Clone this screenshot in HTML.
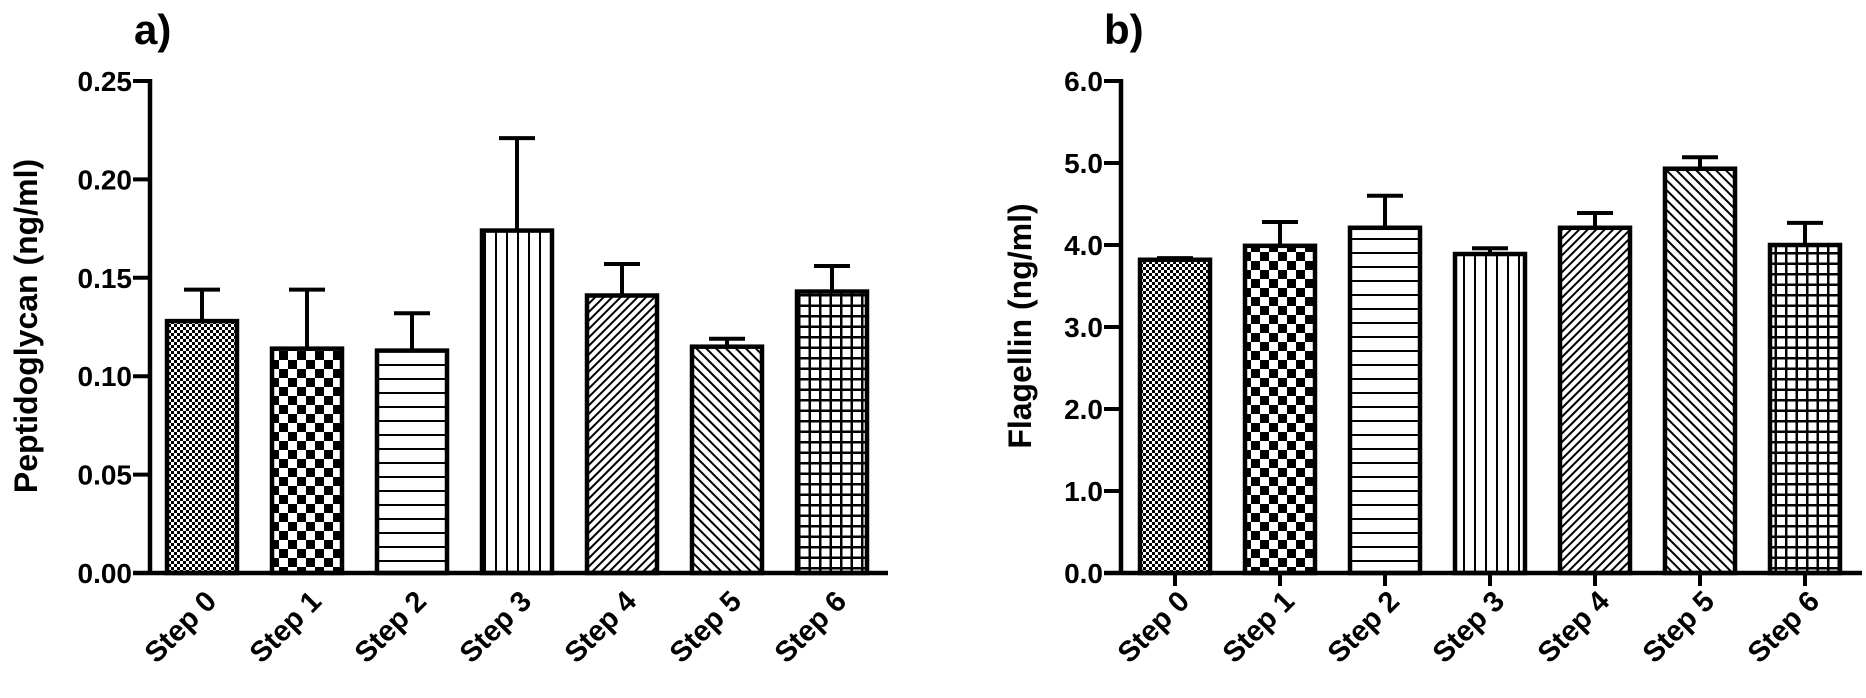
<!DOCTYPE html>
<html><head><meta charset="utf-8">
<style>
html,body{margin:0;padding:0;background:#fff;}
svg{display:block;font-family:"Liberation Sans",Arial,sans-serif;font-weight:bold;}
</style></head>
<body>
<svg id="chart" width="1866" height="698" viewBox="0 0 1866 698" xmlns="http://www.w3.org/2000/svg">
<defs>
<pattern id="p0" width="6" height="6" patternUnits="userSpaceOnUse"><rect width="6" height="6" fill="#fff"/><rect width="3" height="3" fill="#000"/><rect x="3" y="3" width="3" height="3" fill="#000"/></pattern>
<pattern id="p1" width="18" height="18" patternUnits="userSpaceOnUse"><rect width="18" height="18" fill="#fff"/><rect width="9" height="9" fill="#000"/><rect x="9" y="9" width="9" height="9" fill="#000"/></pattern>
<pattern id="p2" width="10" height="14" patternUnits="userSpaceOnUse"><rect width="10" height="14" fill="#fff"/><rect y="0" width="10" height="2" fill="#000"/></pattern>
<pattern id="p3" width="11" height="10" patternUnits="userSpaceOnUse"><rect width="11" height="10" fill="#fff"/><rect x="0" width="2" height="10" fill="#000"/></pattern>
<pattern id="p4" width="6" height="6" patternUnits="userSpaceOnUse" patternTransform="rotate(45)"><rect width="6" height="6" fill="#fff"/><rect width="2" height="6" fill="#000"/></pattern>
<pattern id="p5" width="7" height="7" patternUnits="userSpaceOnUse" patternTransform="rotate(-45)"><rect width="7" height="7" fill="#fff"/><rect width="2" height="7" fill="#000"/></pattern>
<pattern id="p6" width="10.5" height="10.5" patternUnits="userSpaceOnUse"><rect width="10.5" height="10.5" fill="#fff"/><rect width="2.5" height="10.5" fill="#000"/><rect width="10.5" height="2.5" fill="#000"/></pattern>
</defs>
<g id="panelA"></g>
<g id="panelB"></g>
</svg>
<script>
const categories = ["Step 0","Step 1","Step 2","Step 3","Step 4","Step 5","Step 6"];
const peptidoglycanMeans = [0.128, 0.114, 0.113, 0.174, 0.141, 0.115, 0.143];
const peptidoglycanErrors = [0.016, 0.030, 0.019, 0.047, 0.016, 0.004, 0.013];
const peptidoglycanTicks = ["0.00","0.05","0.10","0.15","0.20","0.25"];
const flagellinMeans = [3.82, 3.99, 4.21, 3.89, 4.21, 4.93, 4.00];
const flagellinErrors = [0.02, 0.29, 0.39, 0.07, 0.18, 0.14, 0.27];
const flagellinTicks = ["0.0","1.0","2.0","3.0","4.0","5.0","6.0"];

const NS = "http://www.w3.org/2000/svg";
function mk(parent, tag, attrs){
  const e = document.createElementNS(NS, tag);
  for (const k in attrs) e.setAttribute(k, attrs[k]);
  parent.appendChild(e);
  return e;
}
function drawPanel(g, cfg){
  const y0 = 573, yTop = 81;
  const yMax = parseFloat(cfg.ticks[cfg.ticks.length-1]);
  const yScale = v => y0 - (v / yMax) * (y0 - yTop);
  const xScale = i => cfg.firstCenter + i * 105;
  const bw = 70;
  cfg.means.forEach((m, i) => {
    const cx = xScale(i), top = yScale(m), et = yScale(m + cfg.errs[i]);
    const eb = mk(g, "line", {x1:cx, x2:cx, y1:top, y2:et, stroke:"#000", "stroke-width":4});
    
    
    const cap = mk(g, "line", {x1:cx-18, x2:cx+18, y1:et, y2:et, stroke:"#000", "stroke-width":4});
    
    
    const r = mk(g, "rect", {x:cx-bw/2, y:top, width:bw, height:y0-top, fill:"url(#p"+i+")", stroke:"#000", "stroke-width":4.5});
    
    
    if (cfg.downTicks) {
      const t = mk(g, "line", {x1:cx, x2:cx, y1:y0, y2:y0+13, stroke:"#000", "stroke-width":4});
      
      
    }
    const ax = cx + 16, ay = y0 + 30;
    const lbl = mk(g, "text", {x:ax, y:ay, "text-anchor":"end", "font-size":29, transform:"rotate(-45 "+ax+" "+ay+")", fill:"#000"});
    lbl.textContent = categories[i];
    
    
  });
  const ya = mk(g, "line", {x1:cfg.axisX, x2:cfg.axisX, y1:yTop-2, y2:y0+2, stroke:"#000", "stroke-width":4.5});
  
  
  const xa = mk(g, "line", {x1:cfg.axisX-17, x2:cfg.axisEnd, y1:y0, y2:y0, stroke:"#000", "stroke-width":4.5});
  
  
  cfg.ticks.forEach(t => {
    const y = yScale(parseFloat(t));
    const tk = mk(g, "line", {x1:cfg.axisX-17, x2:cfg.axisX, y1:y, y2:y, stroke:"#000", "stroke-width":4});
    
    
    const tl = mk(g, "text", {x:cfg.axisX-18, y:y+10, "text-anchor":"end", "font-size":28, fill:"#000"});
    tl.textContent = t;
    
    
  });
  const title = mk(g, "text", {x:cfg.titleX, y:326, "text-anchor":"middle", "font-size":32, transform:"rotate(-90 "+cfg.titleX+" 326)", fill:"#000"});
  title.textContent = cfg.title;
  
  
  const pl = mk(g, "text", {x:cfg.labelX, y:44, "font-size":42, fill:"#000"});
  pl.textContent = cfg.label;
  
  
}
drawPanel(document.getElementById("panelA"), {
  means: peptidoglycanMeans, errs: peptidoglycanErrors, ticks: peptidoglycanTicks,
  axisX: 150, axisEnd: 888, firstCenter: 202, downTicks: false,
  title: "Peptidoglycan (ng/ml)", titleX: 37, label: "a)", labelX: 134
});
drawPanel(document.getElementById("panelB"), {
  means: flagellinMeans, errs: flagellinErrors, ticks: flagellinTicks,
  axisX: 1121, axisEnd: 1862, firstCenter: 1175, downTicks: true,
  title: "Flagellin (ng/ml)", titleX: 1031, label: "b)", labelX: 1104
});
</script>
</body></html>
